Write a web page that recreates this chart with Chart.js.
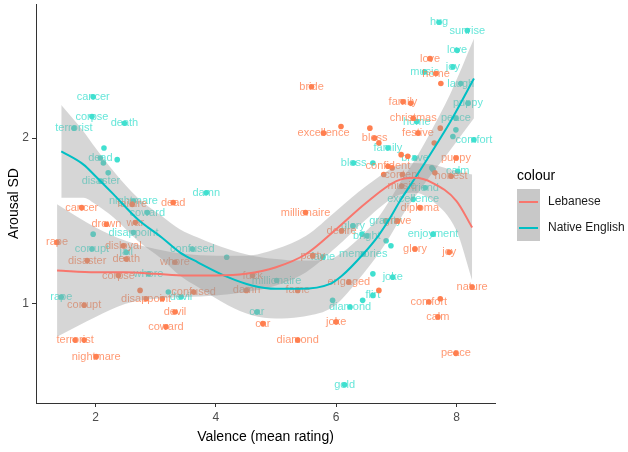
<!DOCTYPE html>
<html>
<head>
<meta charset="utf-8">
<script src="https://cdn.jsdelivr.net/npm/chart.js@4/dist/chart.umd.min.js"></script>
<style>
  body { margin: 0; background: #fff; }
  canvas { display: block; }
</style>
</head>
<body>
<canvas id="arousal" width="628" height="452"></canvas>
<script>
var FONT = "'Liberation Sans', Arial, sans-serif"
var LEB_POINT = "#FF7F50"
var ENG_POINT = "#40E0D0"
var LEB_LINE = "#F8766D"
var ENG_LINE = "#00BFC4"
var BAND = "rgba(153,153,153,0.4)"

var xTicks = [2, 4, 6, 8]
var yTicks = [1, 2]
var groups = ["Lebanese", "Native English"]

// Lebanese raters
var lebWords = ["cancer", "dead", "failure", "drown", "war", "rape", "disloyal", "disaster", "death", "whore",
  "corpse", "", "disappoint", "", "confused", "devil", "coward", "corrupt", "terrorist", "",
  "nightmare", "damn", "fuck", "fame", "car", "diamond", "joke", "engaged", "", "millionaire",
  "desire", "party", "glory", "joy", "grave", "diploma", "nature", "comfort", "", "calm",
  "peace", "bride", "excellence", "", "", "bless", "", "family", "", "christmas",
  "festive", "", "", "love", "home", "", "puppy", "", "honest", "",
  "", "confident", "", "content", "music", ""]
var lebValence = [1.77, 3.29, 2.61, 2.18, 2.66, 1.36, 2.46, 1.86, 2.51, 3.32,
  2.38, 2.74, 2.84, 3.11, 3.63, 3.32, 3.17, 1.81, 1.66, 1.81,
  2.01, 4.51, 4.61, 5.36, 4.78, 5.36, 6.00, 6.21, 6.71, 5.49,
  6.09, 5.61, 7.31, 7.88, 7.02, 7.39, 8.26, 7.54, 7.73, 7.69,
  7.99, 5.59, 5.79, 6.08, 6.56, 6.64, 6.71, 7.11, 7.24, 7.28,
  7.36, 7.73, 7.63, 7.56, 7.66, 7.74, 7.99, 7.64, 7.91, 7.08,
  7.19, 6.86, 6.93, 7.10, 7.09, 6.79]
var lebArousal = [1.58, 1.61, 1.60, 1.48, 1.49, 1.37, 1.35, 1.26, 1.27, 1.25,
  1.17, 1.08, 1.03, 1.03, 1.07, 0.95, 0.86, 0.99, 0.78, 0.78,
  0.68, 1.08, 1.17, 1.08, 0.88, 0.78, 0.89, 1.13, 1.08, 1.55,
  1.44, 1.29, 1.33, 1.31, 1.50, 1.58, 1.10, 1.01, 1.03, 0.92,
  0.70, 2.31, 2.03, 2.07, 2.06, 2.00, 1.97, 2.22, 2.21, 2.12,
  2.03, 2.06, 1.97, 2.48, 2.39, 2.33, 1.88, 1.79, 1.77, 1.90,
  1.89, 1.83, 1.82, 1.78, 1.71, 1.78]

// Native English raters
var engWords = ["hug", "sunrise", "love", "joy", "laugh", "music", "puppy", "peace", "home", "comfort",
  "", "", "family", "bless", "", "brave", "", "", "calm", "friend",
  "excellence", "glory", "bright", "", "gravity", "", "", "memories", "", "joke",
  "flirt", "", "", "diamond", "enjoyment", "gold", "car", "millionaire", "fame", "confused",
  "", "damn", "cancer", "corpse", "death", "terrorist", "", "dead", "", "",
  "disaster", "", "nightmare", "coward", "disappoint", "", "corrupt", "jail", "whore", "",
  "devil", "rape"]
var engValence = [7.71, 8.18, 8.01, 7.94, 8.07, 7.47, 8.19, 7.99, 7.34, 8.29,
  7.99, 7.94, 6.86, 6.29, 6.61, 7.31, 7.59, 7.61, 8.02, 7.48,
  7.28, 6.28, 6.51, 6.43, 6.82, 6.83, 6.91, 6.45, 6.61, 6.94,
  6.61, 6.44, 5.94, 6.23, 7.61, 6.14, 4.68, 5.01, 5.78, 3.61,
  4.18, 3.84, 1.96, 1.94, 2.48, 1.64, 2.14, 2.08, 2.13, 2.36,
  2.09, 2.21, 2.63, 2.86, 2.63, 1.96, 1.94, 2.51, 2.88, 3.21,
  3.42, 1.43]
var engArousal = [2.70, 2.65, 2.53, 2.43, 2.33, 2.40, 2.21, 2.12, 2.10, 1.99,
  2.05, 2.01, 1.94, 1.85, 1.85, 1.88, 1.82, 1.81, 1.80, 1.70,
  1.63, 1.47, 1.41, 1.42, 1.50, 1.38, 1.35, 1.30, 1.18, 1.16,
  1.05, 1.02, 1.02, 0.98, 1.42, 0.51, 0.95, 1.14, 1.28, 1.33,
  1.28, 1.67, 2.25, 2.13, 2.09, 2.06, 1.94, 1.88, 1.85, 1.87,
  1.74, 1.79, 1.62, 1.55, 1.43, 1.42, 1.33, 1.31, 1.18, 1.07,
  1.04, 1.04]

// loess fits with their confidence band
var lebFitX = [1.36, 2.0, 2.5, 3.0, 3.5, 4.0, 4.5, 5.0, 5.5, 6.0, 6.5, 7.0, 7.3, 7.6, 8.0, 8.26]
var lebFit = [1.20, 1.19, 1.19, 1.18, 1.17, 1.17, 1.18, 1.22, 1.30, 1.45, 1.61, 1.74, 1.76, 1.73, 1.62, 1.46]
var lebLower = [0.80, 0.92, 1.00, 1.03, 1.04, 1.05, 1.07, 1.11, 1.19, 1.34, 1.51, 1.65, 1.67, 1.62, 1.44, 1.14]
var lebUpper = [1.60, 1.46, 1.38, 1.33, 1.30, 1.29, 1.29, 1.33, 1.41, 1.56, 1.71, 1.83, 1.85, 1.84, 1.80, 1.78]

var engFitX = [1.43, 1.8, 2.0, 2.3, 2.7, 3.1, 3.4, 3.7, 4.2, 4.6, 5.0, 5.4, 5.9, 6.1, 6.45, 6.7, 6.9, 7.06, 7.26, 7.56, 7.9, 8.29]
var engFit = [1.92, 1.84, 1.77, 1.66, 1.51, 1.40, 1.31, 1.25, 1.16, 1.11, 1.09, 1.09, 1.12, 1.17, 1.30, 1.41, 1.52, 1.62, 1.73, 1.90, 2.10, 2.36]
var engLower = [1.64, 1.64, 1.60, 1.52, 1.38, 1.27, 1.17, 1.10, 0.99, 0.93, 0.91, 0.92, 0.97, 1.03, 1.18, 1.30, 1.41, 1.51, 1.62, 1.77, 1.93, 2.12]
var engUpper = [2.20, 2.04, 1.94, 1.80, 1.64, 1.53, 1.45, 1.40, 1.33, 1.29, 1.27, 1.26, 1.27, 1.31, 1.42, 1.52, 1.63, 1.73, 1.84, 2.03, 2.27, 2.60]

function pairs(xs, ys) {
  return xs.map(function (x, i) { return { x: x, y: ys[i] } })
}

function pointSet(words, xs, ys, color) {
  return {
    data: pairs(xs, ys), words: words, textColor: color,
    showLine: false, pointRadius: 2.8, pointBorderWidth: 0,
    pointBackgroundColor: color, order: 3
  }
}

function bandSet(xs, ys, fill) {
  return {
    data: pairs(xs, ys), showLine: true, borderWidth: 0, pointRadius: 0,
    cubicInterpolationMode: "monotone", fill: fill, backgroundColor: BAND, order: 2
  }
}

function lineSet(xs, ys, color) {
  return {
    data: pairs(xs, ys), showLine: true, borderColor: color, borderWidth: 2,
    pointRadius: 0, cubicInterpolationMode: "monotone", fill: false, order: 1
  }
}

// words drawn right after their points, under the bands
var wordLabels = {
  id: "wordLabels",
  afterDatasetDraw: function (chart, args) {
    var ds = chart.data.datasets[args.index]
    if (!ds.words) return
    var c = chart.ctx
    c.save()
    c.font = "11px " + FONT
    c.textAlign = "center"
    c.textBaseline = "middle"
    c.fillStyle = ds.textColor
    c.globalAlpha = 0.8
    args.meta.data.forEach(function (pt, i) {
      if (ds.words[i]) c.fillText(ds.words[i], pt.x, pt.y)
    })
    c.restore()
  }
}

var colourKey = {
  id: "colourKey",
  afterDraw: function (chart) {
    var c = chart.ctx
    c.save()
    c.fillStyle = "#000"
    c.font = "14px " + FONT
    c.textBaseline = "middle"
    c.fillText("colour", 517, 176)
    var lineColors = [LEB_LINE, ENG_LINE]
    groups.forEach(function (g, i) {
      var top = 189 + i * 26
      c.fillStyle = "#C8C8C8"
      c.fillRect(517, top, 23, 26)
      c.strokeStyle = lineColors[i]
      c.lineWidth = 2
      c.beginPath()
      c.moveTo(519, top + 13)
      c.lineTo(538, top + 13)
      c.stroke()
      c.fillStyle = "#1A1A1A"
      c.font = "12px " + FONT
      c.fillText(g, 548, top + 13)
    })
    c.restore()
  }
}

function axis(min, max, ticks, title, fitSize, isX) {
  return {
    type: "linear", min: min, max: max,
    afterBuildTicks: function (s) { s.ticks = ticks.map(function (v) { return { value: v } }) },
    afterFit: function (s) {
      if (isX) { s.height = fitSize; s.paddingLeft = 0; s.paddingRight = 0 }
      else { s.width = fitSize; s.paddingTop = 0; s.paddingBottom = 0 }
    },
    grid: { display: true, drawOnChartArea: false, drawTicks: true, tickLength: 4, color: "#333", lineWidth: 1 },
    border: { display: true, color: "#333", width: 1 },
    ticks: { color: "#4D4D4D", font: { family: FONT, size: 12 }, padding: 3, maxRotation: 0 },
    title: { display: true, text: title, color: "#000", font: { family: FONT, size: 14 },
      padding: { top: 6, bottom: 6 } }
  }
}

var ctx = document.getElementById("arousal")
new Chart(ctx, {
  type: "scatter",
  data: {
    datasets: [
      pointSet(lebWords, lebValence, lebArousal, LEB_POINT),
      pointSet(engWords, engValence, engArousal, ENG_POINT),
      bandSet(lebFitX, lebUpper, "+1"),
      bandSet(lebFitX, lebLower, false),
      bandSet(engFitX, engUpper, "+1"),
      bandSet(engFitX, engLower, false),
      lineSet(lebFitX, lebFit, LEB_LINE),
      lineSet(engFitX, engFit, ENG_LINE)
    ]
  },
  options: {
    responsive: false,
    animation: false,
    layout: { padding: { top: 2, right: 133, left: 0, bottom: 0 } },
    plugins: { legend: { display: false }, tooltip: { enabled: false } },
    scales: {
      x: axis(1.01, 8.64, xTicks, "Valence (mean rating)", 49, true),
      y: axis(0.40, 2.81, yTicks, "Arousal SD", 36, false)
    }
  },
  plugins: [wordLabels, colourKey]
})
</script>
</body>
</html>
